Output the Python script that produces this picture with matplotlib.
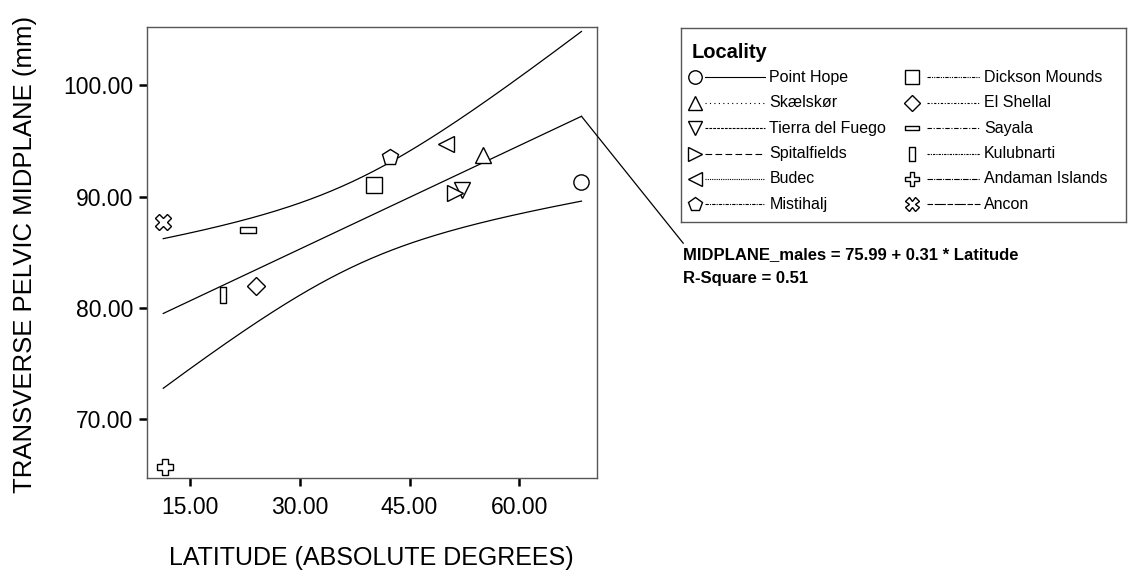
import numpy as np
import matplotlib
matplotlib.use("Agg")
import matplotlib.pyplot as plt
from matplotlib.path import Path

plt.rcParams['font.family'] = ['Liberation Sans', 'DejaVu Sans']

# male transverse pelvic midplane by population
localities = ['Point Hope', 'Skælskør', 'Tierra del Fuego', 'Spitalfields',
              'Budec', 'Mistihalj', 'Dickson Mounds', 'El Shellal',
              'Sayala', 'Kulubnarti', 'Andaman Islands', 'Ancon']
latitude = [68.5, 55.0, 52.2, 51.15, 50.0, 42.4, 40.2, 24.0, 22.9, 19.55, 11.6, 11.35]
midplane = [91.35, 93.75, 90.6, 90.3, 94.7, 93.55, 91.05, 82.0, 87.0, 81.15, 65.7, 87.75]

intercept = 75.99
slope = 0.31
r_square = 0.51
t_crit = 2.228  # t(0.975, df=10)

x_ticks = [15, 30, 45, 60]
y_ticks = [70, 80, 90, 100]

hbar = Path([(-1, -0.34), (1, -0.34), (1, 0.34), (-1, 0.34), (-1, -0.34)],
            [1, 2, 2, 2, 79])
vbar = Path([(-0.4, -1), (0.4, -1), (0.4, 1), (-0.4, 1), (-0.4, -1)],
            [1, 2, 2, 2, 79])

markers = ['o', '^', 'v', '>', '<', 'p', 's', 'D', hbar, vbar, 'P', 'X']
msizes = [11, 12, 12, 12, 12, 12, 11, 9, 11.5, 11.5, 11, 11]
dashes = ['-', (0, (1, 3)), (0, (2.5, 1)), (0, (6, 3)), (0, (1, 1)),
          (0, (3, 1, 1, 1)), (0, (3, 1, 1, 1, 1, 1)), (0, (2, 1.5, 1, 1.5)),
          (0, (4, 1.5, 1, 1.5)), (0, (2, 1, 1, 1)), (0, (5, 1, 1, 1)),
          (0, (5, 1.5, 10, 1.5))]

fig = plt.figure(figsize=(11.28, 5.81), dpi=100)
ax = fig.add_axes([0.1306, 0.1768, 0.3989, 0.7762])

for name, x, y, m, ms in zip(localities, latitude, midplane, markers, msizes):
    ax.plot(x, y, linestyle='none', marker=m, ms=ms, mfc='white',
            mec='black', mew=1.0, zorder=3)

# regression line with 95% band for the mean
lat = np.array(latitude)
mid = np.array(midplane)
n = len(lat)
resid = mid - (intercept + slope * lat)
s = np.sqrt(np.sum(resid ** 2) / (n - 2))
sxx = np.sum((lat - lat.mean()) ** 2)
xs = np.linspace(lat.min(), lat.max(), 200)
fit = intercept + slope * xs
half = t_crit * s * np.sqrt(1 / n + (xs - lat.mean()) ** 2 / sxx)
for yy in (fit, fit + half, fit - half):
    ax.plot(xs, yy, color='black', lw=0.9, zorder=2)

ax.set_xlim(9.17, 70.66)
ax.set_ylim(64.7, 105.22)
ax.set_xticks(x_ticks)
ax.set_yticks(y_ticks)
ax.set_xticklabels([f'{v:.2f}' for v in x_ticks])
ax.set_yticklabels([f'{v:.2f}' for v in y_ticks])
ax.tick_params(direction='out', length=6, width=1.8, labelsize=16.5,
               color='black', pad=4)
ax.tick_params(axis='x', pad=7)
for sp in ax.spines.values():
    sp.set_color('#555555')
    sp.set_linewidth(1.0)

ax.set_xlabel('LATITUDE (ABSOLUTE DEGREES)', fontsize=18)
ax.set_ylabel('TRANSVERSE PELVIC MIDPLANE (mm)', fontsize=18.5)
ax.xaxis.set_label_coords(0.498, -0.150)
ax.yaxis.set_label_coords(-0.245, 0.497)

# equation label with leader line to the end of the fit
x_end = lat.max()
ax.annotate('', xy=(x_end, intercept + slope * x_end),
            xytext=(683.3, 581 - 243.3), textcoords='figure pixels',
            arrowprops=dict(arrowstyle='-', lw=0.9, color='black',
                            shrinkA=0, shrinkB=0))
fig.text(682.7 / 1128, 1 - 255 / 581,
         f'MIDPLANE_males = {intercept:.2f} + {slope:.2f} * Latitude',
         fontsize=12, fontweight='bold', va='center', ha='left')
fig.text(682.7 / 1128, 1 - 278.3 / 581, f'R-Square = {r_square:.2f}',
         fontsize=12, fontweight='bold', va='center', ha='left')

# legend box, laid out in pixel offsets
lg = fig.add_axes([680.7 / 1128, 1 - 221.7 / 581, 445 / 1128, 193.4 / 581])
lg.set_xlim(0, 445)
lg.set_ylim(193.4, 0)
lg.set_xticks([])
lg.set_yticks([])
for sp in lg.spines.values():
    sp.set_color('#555555')
    sp.set_linewidth(1.0)
lg.text(11, 24.4, 'Locality', fontsize=14.5, fontweight='bold', va='center')

col_marker = [14.3, 231.6]
col_line = [(24.3, 84.3), (246, 299.3)]
col_text = [88.6, 303.3]
for i, (name, m, ms, ls) in enumerate(zip(localities, markers, msizes, dashes)):
    c = i // 6
    yy = 49 + (i % 6) * 25.4
    lg.plot(col_marker[c], yy, marker=m, ms=ms * 0.88, mfc='white',
            mec='black', mew=1.0, linestyle='none')
    lg.plot(col_line[c], [yy, yy], color='black', lw=0.8, linestyle=ls)
    lg.text(col_text[c], yy, name, fontsize=11.5, va='center', ha='left')

fig.savefig('out.png', dpi=100)
